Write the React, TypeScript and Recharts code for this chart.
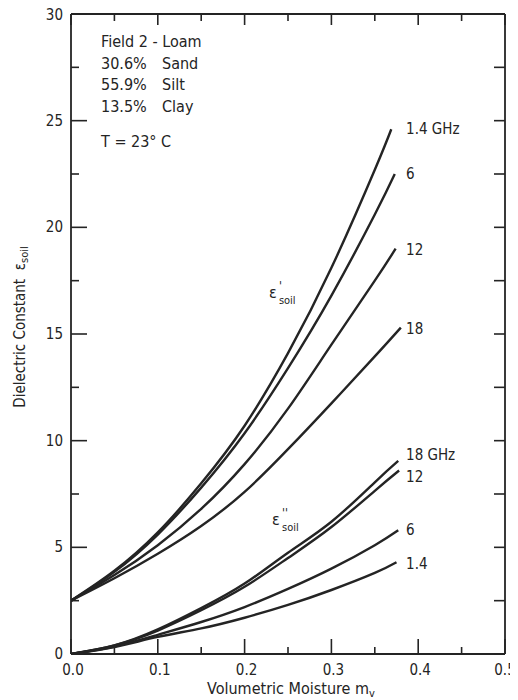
import React from 'react';
import { LineChart, Line, XAxis, YAxis, ReferenceDot } from 'recharts';

// Volumetric moisture grid (shared) plus each curve's own end point
const mvGrid = [0, 0.05, 0.1, 0.15, 0.2, 0.25, 0.3, 0.35];

// Real part eps' (upper family)
const realFreqs = ['1.4 GHz', '6', '12', '18'];
const realEndMv = [0.369, 0.373, 0.374, 0.38];
const real14 = [2.5, 3.9, 5.7, 8.0, 10.7, 14.1, 18.1, 22.7, 24.6];
const real6 = [2.5, 3.85, 5.6, 7.8, 10.35, 13.4, 16.8, 20.6, 22.5];
const real12 = [2.5, 3.7, 5.1, 6.8, 8.9, 11.5, 14.5, 17.5, 19.0];
const real18 = [2.5, 3.55, 4.7, 6.0, 7.6, 9.6, 11.75, 13.95, 15.3];

// Imaginary part eps'' (lower family)
const imagFreqs = ['18 GHz', '12', '6', '1.4'];
const imagEndMv = [0.377, 0.378, 0.377, 0.375];
const imag18 = [0, 0.4, 1.15, 2.15, 3.3, 4.75, 6.2, 8.05, 9.05];
const imag12 = [0, 0.4, 1.1, 2.05, 3.15, 4.5, 5.95, 7.65, 8.6];
const imag6 = [0, 0.35, 0.9, 1.5, 2.2, 3.05, 4.0, 5.1, 5.8];
const imag14 = [0, 0.33, 0.8, 1.2, 1.7, 2.3, 3.0, 3.8, 4.3];

const xTicks = [0, 0.05, 0.1, 0.15, 0.2, 0.25, 0.3, 0.35, 0.4, 0.45, 0.5];
const yTicks = [0, 2.5, 5, 7.5, 10, 12.5, 15, 17.5, 20, 22.5, 25, 27.5, 30];

const infoLines = [
  ['Field 2 - Loam', ''],
  ['30.6%', 'Sand'],
  ['55.9%', 'Silt'],
  ['13.5%', 'Clay'],
];
const tempLine = 'T = 23\u00B0 C';

const build = (vals: number[], endMv: number) =>
  mvGrid.concat([endMv]).map((mv, i) => ({ mv, v: vals[i] }));

const realSeries = [real14, real6, real12, real18].map((s, i) => build(s, realEndMv[i]));
const imagSeries = [imag18, imag12, imag6, imag14].map((s, i) => build(s, imagEndMv[i]));

const INK = '#242424';
const FONT = '"DejaVu Sans Condensed", "DejaVu Sans", sans-serif';

const isMajor = (v: number, step: number) => Math.abs(v / step - Math.round(v / step)) < 1e-6;

const BottomTick = (p: any) => {
  const { x, y, payload } = p;
  const v = payload.value;
  const major = isMajor(v, 0.1);
  return (
    <g>
      <line x1={x} x2={x} y1={y} y2={y - (major ? 15 : 7)} stroke={INK} strokeWidth={1.6} />
      {major && (
        <text x={x + (v > 0.45 ? 0 : 2)} y={y + 16} textAnchor="middle" dominantBaseline="central" fontFamily={FONT} fontSize={15} fill={INK}>
          {v.toFixed(1)}
        </text>
      )}
    </g>
  );
};

const TopTick = (p: any) => {
  const { x, y, payload } = p;
  const major = isMajor(payload.value, 0.1);
  return <line x1={x} x2={x} y1={y} y2={y + (major ? 11 : 7)} stroke={INK} strokeWidth={1.6} />;
};

const LeftTick = (p: any) => {
  const { x, y, payload } = p;
  const v = payload.value;
  const major = isMajor(v, 5);
  return (
    <g>
      <line x1={x} x2={x + (major ? 16 : 8)} y1={y} y2={y} stroke={INK} strokeWidth={1.6} />
      {major && (
        <text x={x - 8} y={y + (v === 30 ? 1 : 0)} textAnchor="end" dominantBaseline="central" fontFamily={FONT} fontSize={15} fill={INK}>
          {String(v)}
        </text>
      )}
    </g>
  );
};

const RightTick = (p: any) => {
  const { x, y } = p;
  return <line x1={x} x2={x - 11} y1={y} y2={y} stroke={INK} strokeWidth={1.6} />;
};

const center = (p: any) => {
  const vb = p.viewBox || {};
  return { cx: (vb.x || 0) + (vb.width || 0) / 2, cy: (vb.y || 0) + (vb.height || 0) / 2 };
};

const endLabel = (text: string, dy: number) => (p: any) => {
  const { cx, cy } = center(p);
  return (
    <text x={cx} y={cy + dy} dominantBaseline="central" fontFamily={FONT} fontSize={15} fill={INK}>
      {text}
    </text>
  );
};

const epsLabel = (primes: string) => (p: any) => {
  const { cx, cy } = center(p);
  return (
    <g fontFamily={FONT} fill={INK}>
      <text x={cx} y={cy} fontSize={16}>{'\u03B5'}</text>
      <text x={cx + 10} y={cy - 8} fontSize={12}>{primes}</text>
      <text x={cx + 10} y={cy + 6} fontSize={11}>soil</text>
    </g>
  );
};

const infoLabel = (p: any) => {
  const { cx, cy } = center(p);
  return (
    <g fontFamily={FONT} fontSize={16} fill={INK}>
      {infoLines.map((l, i) => (
        <g key={i}>
          <text x={cx} y={cy + i * 21.7}>{l[0]}</text>
          {l[1] && <text x={cx + 61} y={cy + i * 21.7}>{l[1]}</text>}
        </g>
      ))}
      <text x={cx} y={cy + 100}>{tempLine}</text>
    </g>
  );
};

const YLabel = (p: any) => {
  const vb = p.viewBox;
  const x = vb.x + 20;
  const y = vb.y + vb.height / 2 - 7;
  return (
    <text x={x} y={y} transform={`rotate(-90, ${x}, ${y})`} textAnchor="middle" dominantBaseline="central" fontFamily={FONT} fontSize={15} fill={INK}>
      Dielectric Constant{'\u00A0\u00A0\u03B5'}
      <tspan dy={4} fontSize={11}>soil</tspan>
    </text>
  );
};

const XLabel = (p: any) => {
  const vb = p.viewBox;
  const x = vb.x + vb.width / 2 + 3;
  const y = vb.y + 40;
  return (
    <text x={x} y={y} textAnchor="middle" fontFamily={FONT} fontSize={16} fill={INK}>
      Volumetric Moisture m
      <tspan dy={3} fontSize={11}>v</tspan>
    </text>
  );
};

const LABEL_MV = 0.386;
const imagLabelDy = [-6, 6, 0, 2];
const realLabelDy = [0, 0, 1, 1];

export default function App() {
  return (
    <div style={{ width: 518, height: 700, margin: '-8px 0 0 -8px' }}>
      <LineChart width={518} height={700} margin={{ top: 0, right: 0, bottom: 0, left: 0 }}>
        <XAxis
          dataKey="mv"
          type="number"
          domain={[0, 0.5]}
          ticks={xTicks}
          interval={0}
          allowDataOverflow
          height={46}
          tickSize={0}
          tickMargin={0}
          tickLine={false}
          axisLine={{ stroke: INK, strokeWidth: 1.8 }}
          tick={<BottomTick />}
          label={<XLabel />}
        />
        <XAxis
          xAxisId="top"
          orientation="top"
          dataKey="mv"
          type="number"
          domain={[0, 0.5]}
          ticks={xTicks}
          interval={0}
          allowDataOverflow
          height={14}
          tickSize={0}
          tickMargin={0}
          tickLine={false}
          axisLine={{ stroke: INK, strokeWidth: 1.8 }}
          tick={<TopTick />}
        />
        <YAxis
          type="number"
          domain={[0, 30]}
          ticks={yTicks}
          interval={0}
          allowDataOverflow
          width={71}
          tickSize={0}
          tickMargin={0}
          tickLine={false}
          axisLine={{ stroke: INK, strokeWidth: 1.8 }}
          tick={<LeftTick />}
          label={<YLabel />}
        />
        <YAxis
          yAxisId="right"
          orientation="right"
          type="number"
          domain={[0, 30]}
          ticks={yTicks}
          interval={0}
          allowDataOverflow
          width={13}
          tickSize={0}
          tickMargin={0}
          tickLine={false}
          axisLine={{ stroke: INK, strokeWidth: 1.8 }}
          tick={<RightTick />}
        />
        <Line
          xAxisId="top"
          yAxisId="right"
          data={realSeries[0]}
          dataKey="v"
          stroke="none"
          dot={false}
          activeDot={false}
          isAnimationActive={false}
        />
        {realSeries.map((d, i) => (
          <Line
            key={'r' + i}
            data={d}
            dataKey="v"
            type="natural"
            stroke={INK}
            strokeWidth={2.4}
            dot={false}
            activeDot={false}
            isAnimationActive={false}
          />
        ))}
        {imagSeries.map((d, i) => (
          <Line
            key={'i' + i}
            data={d}
            dataKey="v"
            type="natural"
            stroke={INK}
            strokeWidth={2.4}
            dot={false}
            activeDot={false}
            isAnimationActive={false}
          />
        ))}
        {realSeries.map((d, i) => (
          <ReferenceDot
            key={'rl' + i}
            x={LABEL_MV}
            y={d[d.length - 1].v}
            r={0}
            fill="none"
            stroke="none"
            label={endLabel(realFreqs[i], realLabelDy[i])}
          />
        ))}
        {imagSeries.map((d, i) => (
          <ReferenceDot
            key={'il' + i}
            x={LABEL_MV}
            y={d[d.length - 1].v}
            r={0}
            fill="none"
            stroke="none"
            label={endLabel(imagFreqs[i], imagLabelDy[i])}
          />
        ))}
        <ReferenceDot x={0.228} y={16.7} r={0} fill="none" stroke="none" label={epsLabel("'")} />
        <ReferenceDot x={0.2316} y={6.05} r={0} fill="none" stroke="none" label={epsLabel("''")} />
        <ReferenceDot x={0.0346} y={28.45} r={0} fill="none" stroke="none" label={infoLabel} />
      </LineChart>
    </div>
  );
}
